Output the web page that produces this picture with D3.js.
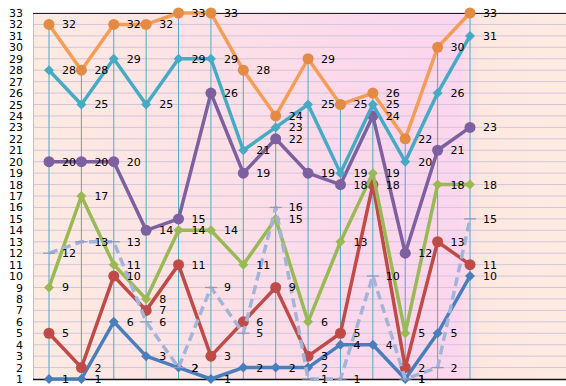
<!DOCTYPE html>
<html><head><meta charset="utf-8">
<script src="https://cdn.jsdelivr.net/npm/d3@7/dist/d3.min.js"></script>
<style>body{margin:0;background:#fff}svg{display:block}</style>
</head><body>
<svg id="c" width="566" height="386"></svg>
<script>
const categories = ["1","2","3","4","5","6","7","8","9","10","11","12","13","14"];
const yTicks = d3.range(1, 34);
const sBlue   = [1,1,6,3,2,1,2,2,2,4,4,1,5,10];
const sRed    = [5,2,10,7,11,3,6,9,3,5,18,2,13,11];
const sGreen  = [9,17,11,8,14,14,11,15,6,13,19,5,18,18];
const sPurple = [20,20,20,14,15,26,19,22,19,18,24,12,21,23];
const sTeal   = [28,25,29,25,29,29,21,23,25,19,25,20,26,31];
const sOrange = [32,28,32,32,33,33,28,24,29,25,26,22,30,33];
const sDash   = [12,13,13,6,2,9,5,16,1,1,10,1,2,15];

const series = [
  {v:sBlue,   color:"#4A7EBB", marker:"diamond"},
  {v:sRed,    color:"#BE4B48", marker:"circle"},
  {v:sGreen,  color:"#98B954", marker:"diamond"},
  {v:sPurple, color:"#7D60A0", marker:"circle"},
  {v:sTeal,   color:"#46AAC5", marker:"diamond"},
  {v:sOrange, color:"#F59D56", marker:"circle", mcolor:"#E38A45"},
  {v:sDash,   color:"#A3B4D8", marker:"dash", dashed:true}
];

const svg = d3.select("#c");
const L = 33, R = 566, T = 13, B = 379;
const x = d3.scalePoint().domain(categories).range([49, 470]);
const y = d3.scaleLinear().domain([1, 33]).range([B, T]);

const defs = svg.append("defs");
const g = defs.append("linearGradient").attr("id","bg").attr("x1","0").attr("x2","1").attr("y1","0").attr("y2","0");
[[0,"#FDEBE2"],[0.35,"#FCE0E6"],[0.62,"#FBD8EC"],[0.8,"#FBD6EE"],[0.825,"#FCE2E4"],[0.84,"#FDE8E0"],[1,"#FDEBE2"]]
  .forEach(([o,c]) => g.append("stop").attr("offset", o).attr("stop-color", c));

svg.append("rect").attr("x",L).attr("y",T).attr("width",R-L).attr("height",B-T).attr("fill","url(#bg)");

// gridlines
svg.append("g").selectAll("line").data(yTicks.slice(1)).join("line")
  .attr("x1",L).attr("x2",R).attr("y1",d=>y(d)).attr("y2",d=>y(d))
  .attr("stroke","#D3C4DC").attr("stroke-width",1);

// left edge
svg.append("line").attr("x1",L+0.5).attr("x2",L+0.5).attr("y1",T).attr("y2",B).attr("stroke","#BFBFBF");
// top border
svg.append("line").attr("x1",L).attr("x2",R).attr("y1",T+0.5).attr("y2",T+0.5).attr("stroke","#222").attr("stroke-width",1.2);

// y tick labels
const yAxis = d3.axisLeft(y).tickValues(yTicks).tickSize(0).tickPadding(10).tickFormat(d3.format("d"));
const ya = svg.append("g").attr("transform",`translate(${L},0)`).call(yAxis);
ya.select(".domain").remove();
ya.selectAll("text").attr("font-family","DejaVu Sans, Verdana, sans-serif").attr("font-size","11px").attr("fill","#000");

// drop lines
const maxes = categories.map((c,i) => d3.max(series, s => s.v[i]));
svg.append("g").selectAll("line").data(categories).join("line")
  .attr("x1",d=>x(d)).attr("x2",d=>x(d)).attr("y1",(d,i)=>y(maxes[i])).attr("y2",B)
  .attr("stroke","#4BACC6").attr("stroke-width",1);

// bottom axis line
svg.append("line").attr("x1",L).attr("x2",R).attr("y1",B+0.5).attr("y2",B+0.5).attr("stroke","#111").attr("stroke-width",1.3);

const line = d3.line().x((d,i)=>x(categories[i])).y(d=>y(d));
series.forEach(s => {
  const gg = svg.append("g");
  gg.append("path").attr("d", line(s.v)).attr("fill","none").attr("stroke", s.color)
    .attr("stroke-width", 3.5).attr("stroke-linejoin","round")
    .attr("stroke-dasharray", s.dashed ? "9,5" : null);
  const mc = s.mcolor || s.color;
  s.v.forEach((v,i) => {
    const cx = x(categories[i]), cy = y(v);
    if (s.marker === "circle") {
      gg.append("circle").attr("cx",cx).attr("cy",cy).attr("r",5.5).attr("fill",mc);
    } else if (s.marker === "diamond") {
      const r = 5;
      gg.append("path").attr("d",`M${cx},${cy-r}L${cx+r},${cy}L${cx},${cy+r}L${cx-r},${cy}Z`).attr("fill",mc);
    } else {
      gg.append("line").attr("x1",cx-6).attr("x2",cx+6).attr("y1",cy).attr("y2",cy)
        .attr("stroke","#8B9BB8").attr("stroke-width",1.3);
    }
  });
});

// data labels
series.forEach(s => {
  svg.append("g").selectAll("text").data(s.v).join("text")
    .attr("x",(d,i)=>x(categories[i])+13).attr("y",d=>y(d)).attr("dy","0.36em")
    .attr("font-family","DejaVu Sans, Verdana, sans-serif").attr("font-size","11px").attr("fill","#000")
    .text(d=>d);
});
</script>
</body></html>
